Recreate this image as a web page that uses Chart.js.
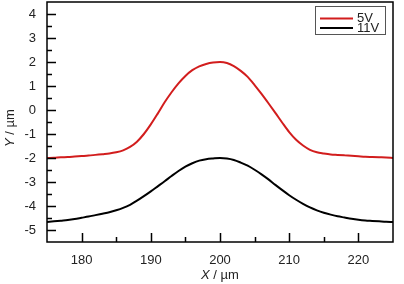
<!DOCTYPE html>
<html>
<head>
<meta charset="utf-8">
<script src="https://cdn.jsdelivr.net/npm/chart.js@4.4.1/dist/chart.umd.min.js"></script>
<style>
  body { margin: 0; background: #fff; }
  canvas { display: block; }
</style>
</head>
<body>
<canvas id="perfil" width="404" height="284"></canvas>
<script>
// posiciones X (µm)
const posX = [175, 176, 177, 178, 179, 180, 181, 182, 183, 184, 185, 186, 187, 188, 189, 190,
    191, 192, 193, 194, 195, 196, 197, 198, 199, 200, 201, 202, 203, 204, 205, 206, 207, 208,
    209, 210, 211, 212, 213, 214, 215, 216, 217, 218, 219, 220, 221, 222, 223, 224, 225];

const perfil5V = [-2.00, -1.99, -1.97, -1.96, -1.94, -1.92, -1.90, -1.87, -1.84, -1.81, -1.76,
    -1.68, -1.54, -1.32, -1.00, -0.60, -0.15, 0.32, 0.74, 1.11, 1.42, 1.66, 1.82, 1.92, 1.98,
    2.00, 1.96, 1.83, 1.63, 1.38, 1.04, 0.67, 0.28, -0.12, -0.53, -0.92, -1.24, -1.48, -1.66,
    -1.76, -1.81, -1.85, -1.87, -1.89, -1.91, -1.93, -1.95, -1.96, -1.97, -1.98, -2.00];

const perfil11V = [-4.67, -4.64, -4.61, -4.58, -4.54, -4.49, -4.44, -4.38, -4.32, -4.26, -4.18,
    -4.08, -3.95, -3.78, -3.59, -3.39, -3.18, -2.97, -2.75, -2.54, -2.36, -2.22, -2.11, -2.05,
    -2.02, -2.00, -2.02, -2.08, -2.19, -2.32, -2.49, -2.68, -2.89, -3.12, -3.34, -3.55, -3.74,
    -3.91, -4.06, -4.18, -4.28, -4.36, -4.43, -4.48, -4.53, -4.57, -4.60, -4.62, -4.64, -4.66, -4.67];

const etiquetas = ["5V", "11V"];
const ticksX = [180, 190, 200, 210, 220];
const ticksY = [-5, -4, -3, -2, -1, 0, 1, 2, 3, 4];

const fuente = "Liberation Sans, Arial, sans-serif";

function puntos(ys) {
    return posX.map((x, i) => ({ x: x, y: ys[i] }));
}

// marco, ticks hacia adentro, leyenda y titulos de ejes
const extras = {
    id: "extras",
    afterDraw(chart) {
        const ctx = chart.ctx;
        const a = chart.chartArea;
        const sx = chart.scales.x;
        const sy = chart.scales.y;
        ctx.save();
        ctx.strokeStyle = "#000";
        ctx.lineWidth = 1.5;
        ctx.beginPath();
        // ticks eje x cada 5
        for (let v = sx.min + 5; v < sx.max; v += 5) {
            const px = Math.round(sx.getPixelForValue(v)) + 0.5;
            const largo = v % 10 === 0 ? 9 : 5;
            ctx.moveTo(px, a.bottom);
            ctx.lineTo(px, a.bottom - largo);
        }
        // ticks eje y cada 0.5
        for (let v = sy.min + 0.5; v < sy.max; v += 0.5) {
            const py = Math.round(sy.getPixelForValue(v)) + 0.5;
            const largo = Number.isInteger(v) ? 9 : 5;
            ctx.moveTo(a.left, py);
            ctx.lineTo(a.left + largo, py);
        }
        ctx.stroke();
        ctx.strokeRect(a.left, a.top, a.right - a.left, a.bottom - a.top);

        // leyenda
        ctx.lineWidth = 1;
        ctx.strokeStyle = "#555";
        ctx.strokeRect(315.5, 6.5, 70, 28);
        ctx.font = "13px " + fuente;
        ctx.textBaseline = "middle";
        chart.data.datasets.forEach((ds, i) => {
            const y = 18.5 + i * 9.5;
            ctx.strokeStyle = ds.borderColor;
            ctx.lineWidth = 2;
            ctx.beginPath();
            ctx.moveTo(320, y);
            ctx.lineTo(353, y);
            ctx.stroke();
            ctx.fillStyle = "#222";
            ctx.textAlign = "left";
            ctx.fillText(ds.label, 357, y);
        });

        // titulos
        ctx.fillStyle = "#222";
        ctx.textBaseline = "alphabetic";
        titulo(ctx, "X", " / µm", (a.left + a.right) / 2, 279);
        ctx.translate(14, (a.top + a.bottom) / 2 + 6);
        ctx.rotate(-Math.PI / 2);
        titulo(ctx, "Y", " / µm", 0, 0);
        ctx.restore();
    },
};

function titulo(ctx, letra, resto, cx, y) {
    ctx.font = "italic 13px " + fuente;
    const w1 = ctx.measureText(letra).width;
    ctx.font = "13px " + fuente;
    const w2 = ctx.measureText(resto).width;
    const x0 = cx - (w1 + w2) / 2;
    ctx.textAlign = "left";
    ctx.font = "italic 13px " + fuente;
    ctx.fillText(letra, x0, y);
    ctx.font = "13px " + fuente;
    ctx.fillText(resto, x0 + w1, y);
}

function sinRelleno(s) {
    s.paddingTop = 0;
    s.paddingBottom = 0;
    s.paddingLeft = 0;
    s.paddingRight = 0;
}

new Chart(document.getElementById("perfil"), {
    type: "line",
    data: {
        datasets: [
            {
                label: etiquetas[0],
                data: puntos(perfil5V),
                borderColor: "#d21d1d",
                borderWidth: 2,
                pointRadius: 0,
                cubicInterpolationMode: "monotone",
            },
            {
                label: etiquetas[1],
                data: puntos(perfil11V),
                borderColor: "#000000",
                borderWidth: 2,
                pointRadius: 0,
                cubicInterpolationMode: "monotone",
            },
        ],
    },
    options: {
        responsive: false,
        animation: false,
        layout: { padding: { top: 2, right: 11, left: 0, bottom: 0 } },
        plugins: { legend: { display: false }, tooltip: { enabled: false } },
        scales: {
            x: {
                type: "linear",
                min: 175,
                max: 225,
                afterBuildTicks: (s) => { s.ticks = ticksX.map((v) => ({ value: v })); },
                afterFit: (s) => { s.height = 42; sinRelleno(s); },
                grid: { display: false, drawTicks: false },
                border: { display: false },
                ticks: { padding: 11, color: "#222", font: { family: fuente, size: 13 }, maxRotation: 0 },
            },
            y: {
                type: "linear",
                min: -5.5,
                max: 4.5,
                afterBuildTicks: (s) => { s.ticks = ticksY.map((v) => ({ value: v })); },
                afterFit: (s) => { s.width = 47; sinRelleno(s); },
                grid: { display: false, drawTicks: false },
                border: { display: false },
                ticks: { padding: 11, color: "#222", font: { family: fuente, size: 13 } },
            },
        },
    },
    plugins: [extras],
});
</script>
</body>
</html>
